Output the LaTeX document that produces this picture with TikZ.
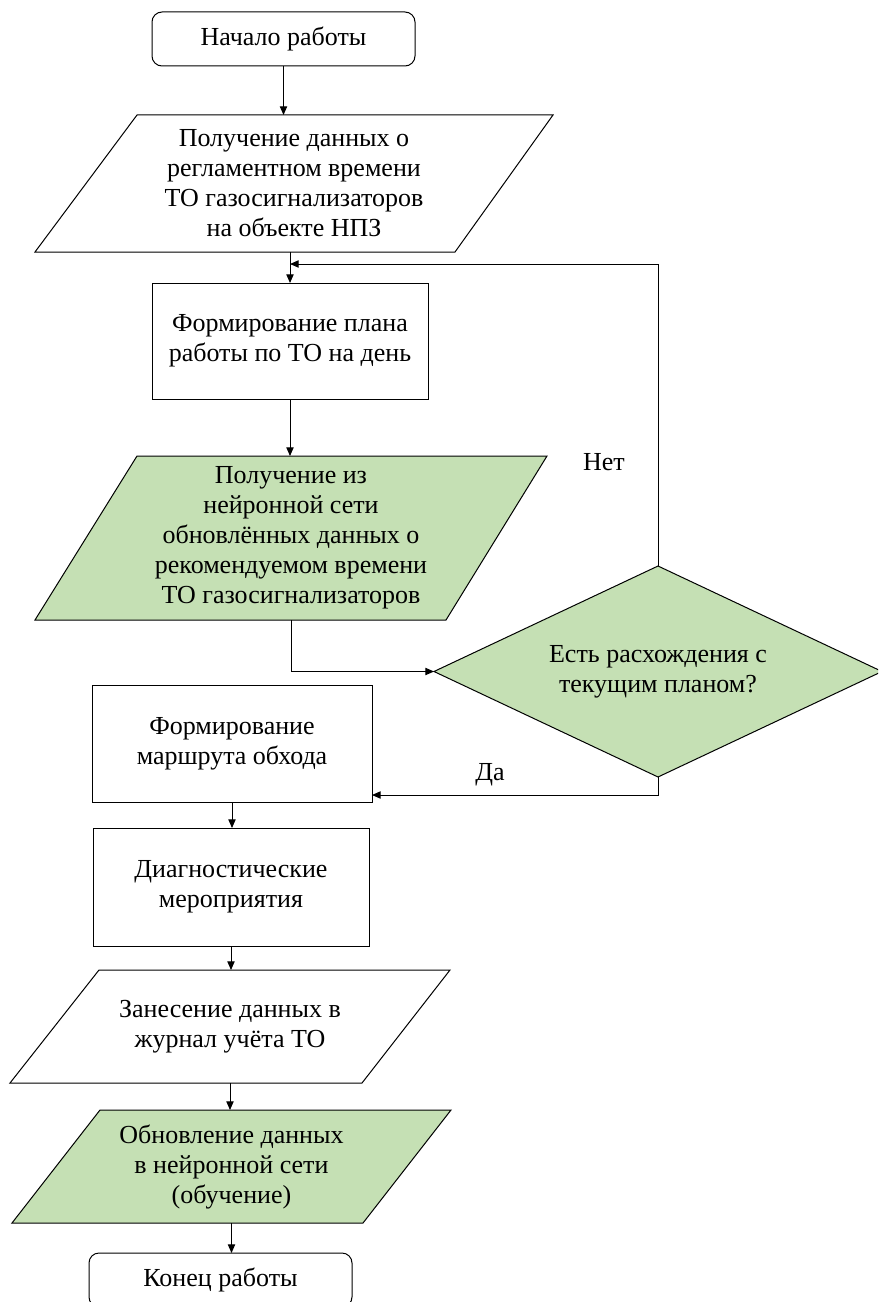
\documentclass[tikz,border=0pt]{standalone}
\usepackage{fontspec}
\setmainfont{Liberation Serif}
\usetikzlibrary{arrows.meta,shapes.geometric,calc}
\definecolor{lgreen}{RGB}{197,224,180}
\begin{document}
\begin{tikzpicture}[x=0.75pt,y=-0.75pt,
  every node/.style={font=\fontsize{19.5}{22.5}\selectfont, align=center, inner sep=0pt, outer sep=0pt},
  box/.style={draw, line width=0.75pt, rectangle},
  term/.style={draw, line width=0.75pt, rounded corners=7.5pt},
  para/.style={draw, line width=0.75pt, line join=miter},
  dec/.style={draw, diamond, line width=0.75pt, fill=lgreen, aspect=2.12},
  arr/.style={-{Triangle[length=6.5pt,width=5.5pt]}, line width=0.75pt},
  lbl/.style={font=\fontsize{19.5}{22.5}\selectfont}]
\useasboundingbox (0,0) rectangle (878,1302);
\clip (0,0) rectangle (878,1302);

% start / end
\node[term, minimum width=197.25pt, minimum height=40.5pt] (start) at (283.5,39) {Начало работы};
\node[term, minimum width=197.25pt, minimum height=40.5pt] (end) at (220.5,1280) {Конец работы};

% parallelogram outlines
\draw[para, fill=white] (137,115) -- (553,115) -- (455,252) -- (35,252) -- cycle;
\draw[para, fill=lgreen] (137,456) -- (547,456) -- (446,620) -- (35,620) -- cycle;
\draw[para, fill=white] (99,970) -- (450,970) -- (362,1083) -- (10,1083) -- cycle;
\draw[para, fill=lgreen] (100,1110) -- (451,1110) -- (363,1223) -- (12,1223) -- cycle;

\node[minimum height=102.75pt] (p1) at (294,183.5) {Получение данных о\\регламентном времени\\ТО газосигнализаторов\\на объекте НПЗ};
\node[minimum height=123pt] (p2) at (291,538) {Получение из\\нейронной сети\\обновлённых данных о\\рекомендуемом времени\\ТО газосигнализаторов};
\node[minimum height=84.75pt] (p3) at (230,1026.5) {Занесение данных в\\журнал учёта ТО};
\node[minimum height=84.75pt] (p4) at (231.5,1166.5) {Обновление данных\\в нейронной сети\\(обучение)};

% process boxes
\node[box, minimum width=207pt, minimum height=87pt] (b2) at (290,341) {Формирование плана\\работы по ТО на день};
\node[box, minimum width=210pt, minimum height=87.75pt] (b3) at (232,743.5) {Формирование\\маршрута обхода};
\node[box, minimum width=207pt, minimum height=88.5pt] (b4) at (231,887) {Диагностические\\мероприятия};

% decision
\node[dec, minimum width=336pt, minimum height=158.25pt] (d) at (658,671.5) {Есть расхождения с\\текущим планом?};

% labels
\node[lbl] (no) at (604,462) {Нет};
\node[lbl] (yes) at (490,775) {Да};

% connectors
\draw[arr] (start.south) -- (start.south |- p1.north);
\draw[arr] (b2.north |- p1.south) -- (b2.north);
\draw[arr] (d.north) |- ($(b2.north)+(0,-19)$);
\draw[arr] (b2.south) -- (b2.south |- p2.north);
\draw[arr] (p2.south) |- (d.west);
\draw[arr] (d.south) |- ($(b3.south east)+(0,-7)$);
\draw[arr] (b3.south) -- (b3.south |- b4.north);
\draw[arr] (b4.south) -- (b4.south |- p3.north);
\draw[arr] (p3.south) -- (p3.south |- p4.north);
\draw[arr] (p4.south) -- (p4.south |- end.north);
\end{tikzpicture}
\end{document}
